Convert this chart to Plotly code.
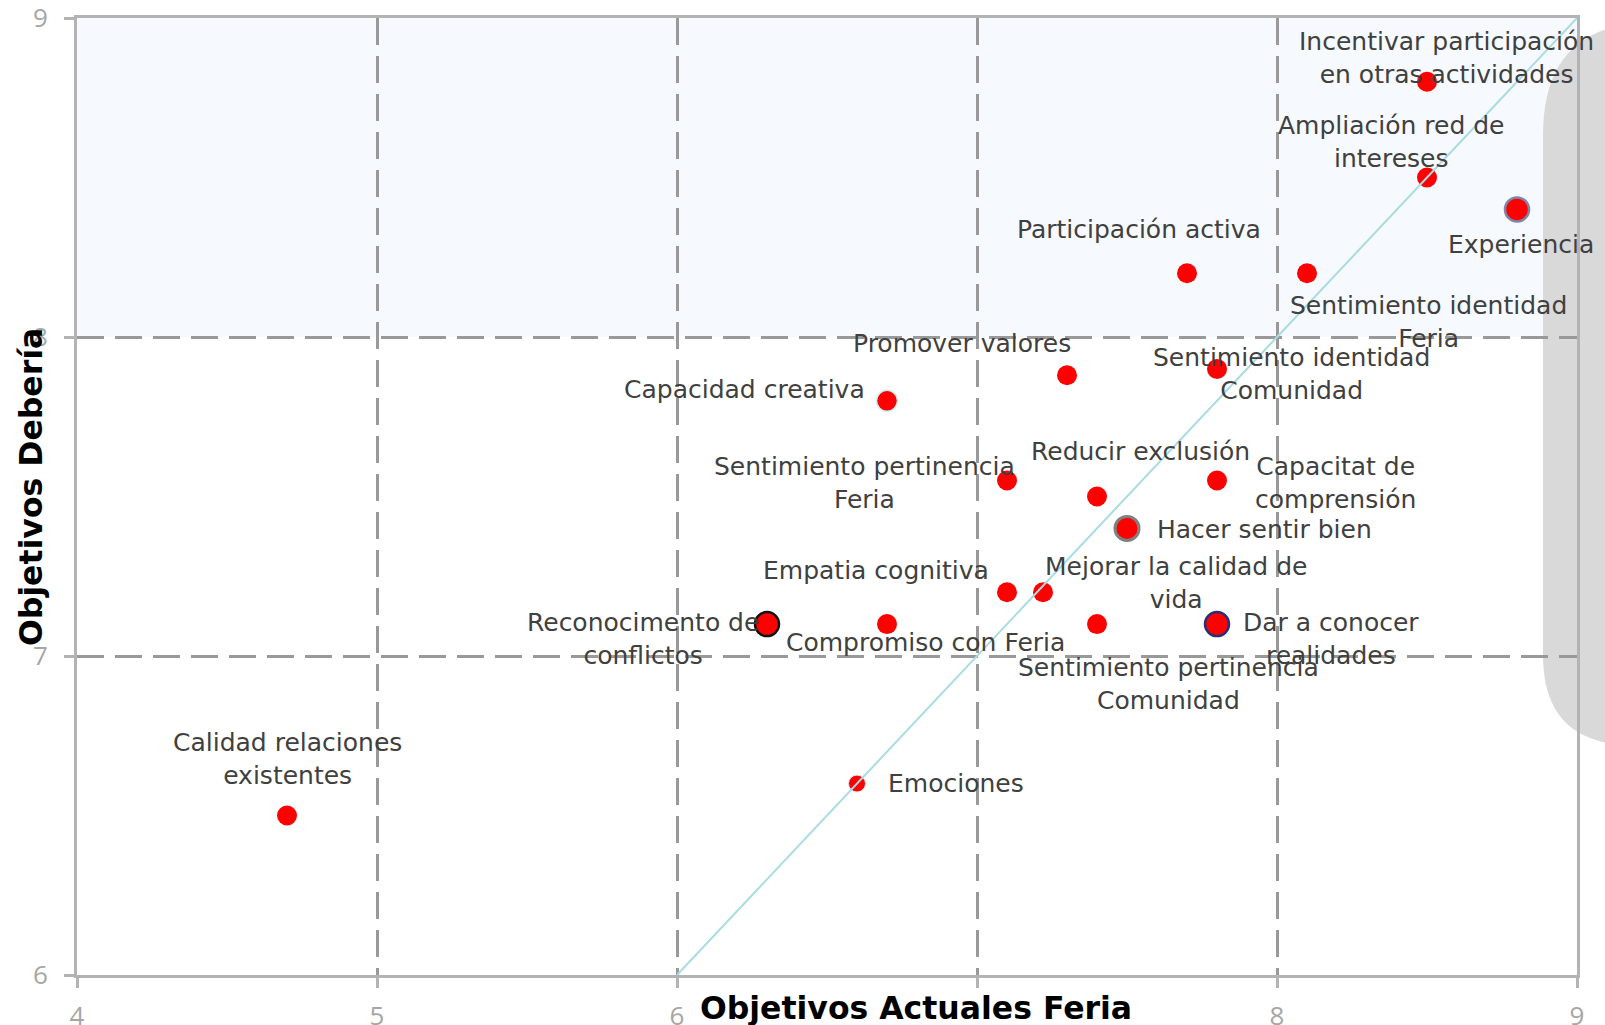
import plotly.graph_objects as go

# ---------------- data ----------------
labels = [
    "Incentivar participación<br>en otras actividades",
    "Ampliación red de<br>intereses",
    "Experiencia",
    "Participación activa",
    "Sentimiento identidad<br>Feria",
    "Promover valores",
    "Sentimiento identidad<br>Comunidad",
    "Capacidad creativa",
    "Sentimiento pertinencia<br>Feria",
    "Reducir exclusión",
    "Capacitat de<br>comprensión",
    "Hacer sentir bien",
    "Empatia cognitiva",
    "Mejorar la calidad de<br>vida",
    "Reconocimento de<br>conflictos",
    "Compromiso con Feria",
    "Sentimiento pertinencia<br>Comunidad",
    "Dar a conocer<br>realidades",
    "Emociones",
    "Calidad relaciones<br>existentes",
]
actual = [8.5, 8.5, 8.8, 7.7, 8.1, 7.3, 7.8, 6.7, 7.1, 7.4,
          7.8, 7.5, 7.1, 7.22, 6.3, 6.7, 7.4, 7.8, 6.6, 4.7]
deberia = [8.8, 8.5, 8.4, 8.2, 8.2, 7.88, 7.9, 7.8, 7.55, 7.5,
           7.55, 7.4, 7.2, 7.2, 7.1, 7.1, 7.1, 7.1, 6.6, 6.5]

x_ticks = [4, 5, 6, 7, 8, 9]
x_ticktext = ["4", "5", "6", "", "8", "9"]
y_ticks = [6, 7, 8, 9]
y_ticktext = ["6", "7", "8", "9"]

x_title = "Objetivos Actuales Feria"
y_title = "Objetivos Debería"

# ---------------- styles ----------------
W, H = 1605, 1025
# plot area in page pixels: left 77, right 1577, top 18, bottom 975
ML, MT = 77, 18
MR = W - 1577
MB = H - 975
PW, PH = W - ML - MR, H - MT - MB

marker_sizes = [20, 20, 24, 20, 20, 20, 20, 21, 20, 20,
                20, 24, 20, 20, 24, 20, 20, 24, 17, 20]
marker_line_colors = ["#ff0000"] * 20
marker_line_widths = [0] * 20
marker_line_colors[2] = "#7d86aa"; marker_line_widths[2] = 2.5
marker_line_colors[7] = "#cdeff2"; marker_line_widths[7] = 1.5
marker_line_colors[11] = "#808080"; marker_line_widths[11] = 3
marker_line_colors[14] = "#111111"; marker_line_widths[14] = 2.5
marker_line_colors[17] = "#26307a"; marker_line_widths[17] = 2.5
marker_line_colors[18] = "#d8eef0"; marker_line_widths[18] = 1

# label offsets in pixels (xshift, yshift)
label_offsets = [
    (19, 24), (-36, 36), (4, -35), (-48, 44), (121, -49),
    (-105, 32), (74, -5), (-143, 11), (-143, -2), (43, 45),
    (118, -2), (137, -1), (-131, 22), (133, 9), (-124, -15),
    (38, -18), (71, -60), (114, -15), (99, 0), (0, 57),
]

FONT = "DejaVu Sans"
TICKFONT = "Open Sans"
TXT = "#404040"
AXC = "#b3b3b3"
GRIDC = "#999999"


def px2paper(px, py):
    """page pixel -> paper coordinate"""
    return ((px - ML) / PW, (H - MB - py) / PH)


fig = go.Figure()

fig.add_trace(go.Scatter(
    x=actual, y=deberia, mode="markers",
    marker=dict(color="#ff0000", size=marker_sizes, opacity=1,
                line=dict(color=marker_line_colors, width=marker_line_widths)),
    hovertext=labels, hoverinfo="text", showlegend=False,
))

# diagonal reference line (x = y)
fig.add_trace(go.Scatter(
    x=[6, 9], y=[6, 9], mode="lines",
    line=dict(color="#a9dce0", width=2), hoverinfo="skip", showlegend=False,
))

# labels
for lab, xv, yv, (dx, dy) in zip(labels, actual, deberia, label_offsets):
    fig.add_annotation(x=xv, y=yv, text=lab, showarrow=False,
                       xshift=dx, yshift=dy, xanchor="center", yanchor="middle",
                       font=dict(family=FONT, size=25, color=TXT),
                       align="center")

# axis titles
tx, ty = px2paper(916, 1008)
fig.add_annotation(xref="paper", yref="paper", x=tx, y=ty,
                   xanchor="center", yanchor="middle",
                   text="<b>" + x_title + "</b>", showarrow=False,
                   font=dict(family=FONT, size=31.5, color="#000000"),
                   bgcolor="#ffffff", borderpad=0)
tx, ty = px2paper(31, 487)
fig.add_annotation(xref="paper", yref="paper", x=tx, y=ty,
                   xanchor="center", yanchor="middle",
                   text="<b>" + y_title + "</b>", showarrow=False, textangle=-90,
                   font=dict(family=FONT, size=31.5, color="#000000"))

# background band (y between 8 and 9)
fig.add_shape(type="rect", xref="paper", yref="paper",
              x0=0, x1=1, y0=(8 - 6) / 3, y1=1,
              fillcolor="#f6f9fd", line=dict(width=0), layer="below")

# gray rounded slide shape on the right
pts = [(1543, 135), (1543, 22), (1655, 22), (1720, 22), (1720, 745),
       (1633, 745), (1543, 745), (1543, 655)]
pp = [px2paper(*p) for p in pts]
path = (f"M {pp[0][0]},{pp[0][1]} Q {pp[1][0]},{pp[1][1]} {pp[2][0]},{pp[2][1]} "
        f"L {pp[3][0]},{pp[3][1]} L {pp[4][0]},{pp[4][1]} L {pp[5][0]},{pp[5][1]} "
        f"Q {pp[6][0]},{pp[6][1]} {pp[7][0]},{pp[7][1]} Z")
fig.add_shape(type="path", xref="paper", yref="paper", path=path,
              fillcolor="#d9d9d9", line=dict(width=0), layer="below")

axis_common = dict(
    showline=True, linecolor=AXC, linewidth=3, mirror=True,
    showgrid=True, gridcolor=GRIDC, gridwidth=3, griddash="27px,11px",
    ticks="outside", ticklen=10, tickwidth=3, tickcolor=AXC,
    tickfont=dict(family=TICKFONT, size=26, color="#a6a6a6"),
    zeroline=False, automargin=False, ticklabeloverflow="allow",
)
fig.update_xaxes(range=[4, 9], tickvals=x_ticks, ticktext=x_ticktext,
                 ticklabelstandoff=6, **axis_common)
fig.update_yaxes(range=[6, 9], tickvals=y_ticks, ticktext=y_ticktext,
                 ticklabelstandoff=11, **axis_common)

fig.update_layout(
    width=W, height=H,
    margin=dict(l=ML, r=MR, t=MT, b=MB, autoexpand=False),
    paper_bgcolor="#ffffff", plot_bgcolor="rgba(0,0,0,0)",
    showlegend=False,
)

# remove the browser's default page margin so the figure fills the window
fig.write_html(
    "out.html",
    config={"displayModeBar": False},
    post_script="document.body.style.margin='0';"
                "document.body.style.overflow='hidden';",
)
